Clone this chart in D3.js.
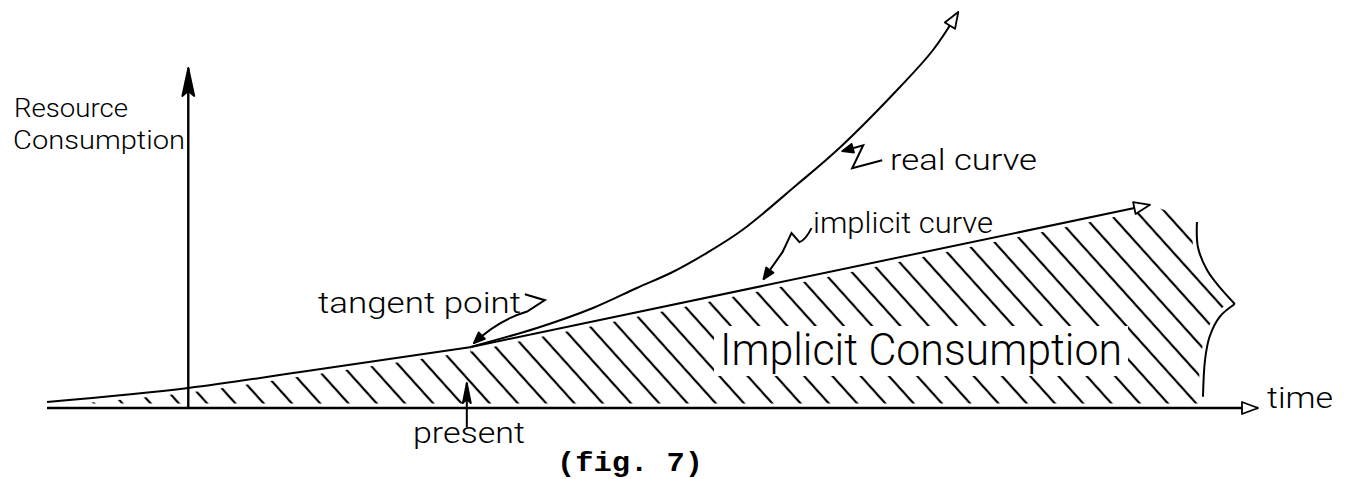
<!DOCTYPE html>
<html>
<head>
<meta charset="utf-8">
<script src="https://cdn.jsdelivr.net/npm/d3@7"></script>
<style>
  body { margin: 0; background: #fff; }
  text { font-family: Roboto, "DejaVu Sans", sans-serif; font-weight: 300; fill: #000; }
</style>
</head>
<body>
<div id="plot_area"></div>
<script>
const svgWidth = 1347,
   svgHeight = 479

// lower edge of the consumption, left of the tangent point
const baseTime = [-14, 0, 11.1, 27.9]
const baseValue = [0.75, 2.5, 4.5, 7.6]

// implicit curve (straight, from tangent point)
const implicitTime = [27.9, 95.3]
const implicitValue = [7.6, 25.4]

// real curve
const realTime = [27.9, 34.55, 40.1, 44.45, 48.0, 51.4, 54.9, 60.3, 64.6, 70.5, 73.8, 76.3]
const realValue = [7.6, 10.0, 12.5, 15.0, 17.0, 19.4, 22.25, 27.9, 32.6, 40.1, 44.75, 49.5]

// bracket closing the shaded area on the right
const bracketUpperTime = [99.95, 100.05, 100.95, 102.2, 103.7]
const bracketUpperValue = [23.25, 20.1, 17.25, 15.1, 13]
const bracketLowerTime = [103.7, 102.2, 101.2, 100.75, 100.55]
const bracketLowerValue = [13, 11.4, 8.9, 6, 1.4]

const presentTime = 27.6
const implicitNoteTime = 56.8
const timeDomain = [-14, 106]
const valueDomain = [0, 42.5]

const axisLabels = ['Resource', 'Consumption', 'time']
const noteLabels = ['tangent point', 'real curve', 'implicit curve', 'present', 'Implicit Consumption']
const captionLabel = '(fig. 7)'

const svg = d3.select('#plot_area').append('svg')
    .attr('width', svgWidth)
    .attr('height', svgHeight)

const x = d3.scaleLinear().domain(timeDomain).range([47, 1258])
const y = d3.scaleLinear().domain(valueDomain).range([408, 68])

const zip = (ts, vs) => ts.map((t, i) => [t, vs[i]])
const straight = d3.line().x(d => x(d[0])).y(d => y(d[1]))
const smooth = d3.line().x(d => x(d[0])).y(d => y(d[1])).curve(d3.curveCatmullRom.alpha(0.5))

// markers
let defs = svg.append('defs')
function marker(id, d, box, fill) {
    defs.append('marker')
        .attr('id', id)
        .attr('viewBox', box.join(' '))
        .attr('markerWidth', box[2])
        .attr('markerHeight', box[3])
        .attr('markerUnits', 'userSpaceOnUse')
        .attr('refX', 0).attr('refY', 0)
        .attr('orient', 'auto')
        .append('path')
        .attr('d', d)
        .attr('fill', fill)
        .attr('stroke', '#000')
        .attr('stroke-width', 1.8)
        .attr('stroke-linejoin', 'round')
}
marker('yhead', 'M0,0L-28,-6L-23,0L-28,6Z', [-31, -9, 34, 18], '#000')
marker('openhead', 'M0,0L-16,-6L-16,6Z', [-19, -9, 22, 18], '#fff')
marker('small', 'M0,0L-11,-4.5L-11,4.5Z', [-14, -7, 16, 14], '#000')
marker('present', 'M0,0L-20,-4L-16,0L-20,4Z', [-23, -7, 26, 14], '#000')

// hatch pattern
defs.append('pattern')
    .attr('id', 'hatch')
    .attr('patternUnits', 'userSpaceOnUse')
    .attr('width', 21).attr('height', 21)
    .attr('patternTransform', 'rotate(-42)')
    .append('line')
    .attr('x1', 10).attr('y1', 0).attr('x2', 10).attr('y2', 21)
    .attr('stroke', '#000').attr('stroke-width', 2.2)

let shade = zip(baseTime, baseValue)
    .concat([[implicitTime[1], implicitValue[1]]])
    .concat(zip(bracketUpperTime, bracketUpperValue))
    .concat(zip(bracketLowerTime, bracketLowerValue).slice(1))
    .concat([[bracketLowerTime[4], 0], [timeDomain[0], 0]])

svg.append('path')
    .attr('d', straight(shade) + 'Z')
    .attr('fill', 'url(#hatch)')

// white halos so the hatch stops short of the lines
let halo = svg.append('g').attr('fill', 'none').attr('stroke', '#fff').attr('stroke-width', 9)
halo.append('path').attr('d', smooth(zip(baseTime, baseValue)))
halo.append('path').attr('d', straight(zip(implicitTime, implicitValue)))
halo.append('path').attr('d', smooth(zip(bracketUpperTime, bracketUpperValue)))
halo.append('path').attr('d', smooth(zip(bracketLowerTime, bracketLowerValue)))
halo.append('path').attr('d', `M${x(timeDomain[0])},${y(0)}H${x(timeDomain[1])}`)

// axes
let xAxis = svg.append('g')
    .attr('transform', `translate(0, ${y(0)})`)
    .call(d3.axisBottom(x).ticks(0).tickSizeOuter(0))
xAxis.select('.domain')
    .attr('d', `M${x(timeDomain[0])},0H${x(timeDomain[1])}`)
    .attr('stroke-width', 2.6)
    .attr('marker-end', 'url(#openhead)')

let yAxis = svg.append('g')
    .attr('transform', `translate(${x(0)}, 0)`)
    .call(d3.axisLeft(y).ticks(0).tickSizeOuter(0))
yAxis.select('.domain')
    .attr('d', `M0,${y(0)}V${y(valueDomain[1])}`)
    .attr('stroke-width', 2.4)
    .attr('marker-end', 'url(#yhead)')

// curves
let curves = svg.append('g').attr('fill', 'none').attr('stroke', '#000').attr('stroke-width', 2)
curves.append('path').attr('d', smooth(zip(baseTime, baseValue)))
curves.append('path')
    .attr('d', straight(zip(implicitTime, implicitValue)))
    .attr('marker-end', 'url(#openhead)')
curves.append('path')
    .attr('d', smooth(zip(realTime, realValue)))
    .attr('marker-end', 'url(#openhead)')
curves.append('path').attr('d', smooth(zip(bracketUpperTime, bracketUpperValue)))
curves.append('path').attr('d', smooth(zip(bracketLowerTime, bracketLowerValue)))

// annotation arrows
let tx = x(realTime[0]), ty = y(realValue[0])
curves.append('path')
    .attr('d', `M${tx + 55},${ty - 53}L${tx + 75},${ty - 47}L${tx + 58},${ty - 36}Q${tx + 28},${ty - 27} ${tx + 4},${ty - 4}`)
    .attr('marker-end', 'url(#small)')

let rx = x(realTime[8]), ry = y(realValue[8])
curves.append('path')
    .attr('d', `M${rx + 42},${ry + 13}L${rx + 12},${ry + 21}L${rx + 23},${ry - 2}L${rx + 2},${ry + 4}`)
    .attr('marker-end', 'url(#small)')

let ix = x(implicitNoteTime),
    iy = y(implicitValue[0] + (implicitNoteTime - implicitTime[0]) * (implicitValue[1] - implicitValue[0]) / (implicitTime[1] - implicitTime[0]))
curves.append('path')
    .attr('d', `M${ix + 50},${iy - 58}Q${ix + 44},${iy - 46} ${ix + 38},${iy - 44}L${ix + 30},${iy - 53}L${ix + 21},${iy - 34}L${ix + 2},${iy - 7}`)
    .attr('marker-end', 'url(#small)')

curves.append('path')
    .attr('d', `M${x(presentTime)},${y(0) + 19}V${y(0) - 25}`)
    .attr('marker-end', 'url(#present)')

// text
function label(str, px, py, size, len) {
    return svg.append('text')
        .attr('x', px).attr('y', py)
        .attr('font-size', size)
        .attr('textLength', len)
        .attr('lengthAdjust', 'spacingAndGlyphs')
        .text(str)
}
label(axisLabels[0], 14, 117, 26, 114)
label(axisLabels[1], 13, 149, 26, 172)
label(axisLabels[2], 1267, 408, 30, 66)
label(noteLabels[0], 318, 313, 29, 203)
label(noteLabels[1], 890, 170, 30, 147)
label(noteLabels[2], 813, 233, 30, 180)
label(noteLabels[3], 413, 443, 30, 112)

let big = label(noteLabels[4], 720, 365, 44, 402)
let bb = big.node().getBBox()
svg.insert('rect', () => big.node())
    .attr('x', bb.x - 6).attr('y', bb.y + 2)
    .attr('width', bb.width + 12).attr('height', bb.height - 2)
    .attr('fill', '#fff')

label(captionLabel, 557, 471, 28, 146)
    .style('font-family', '"Liberation Mono", "DejaVu Sans Mono", monospace')
    .style('font-weight', 'bold')
</script>
</body>
</html>
